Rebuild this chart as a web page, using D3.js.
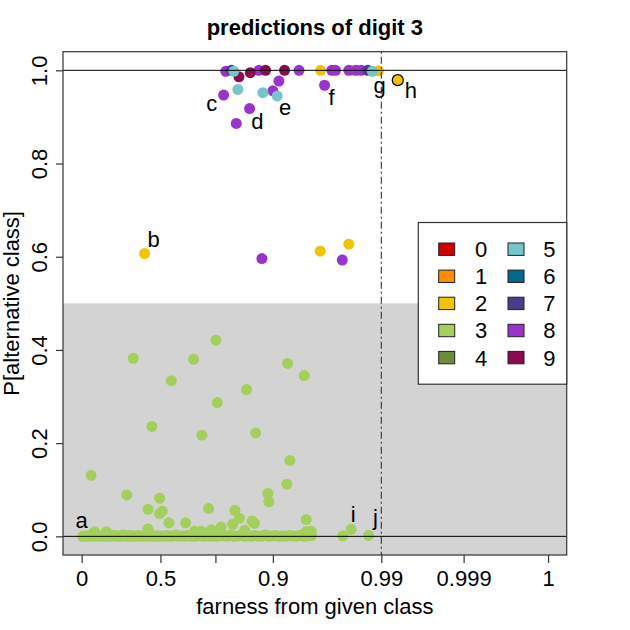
<!DOCTYPE html>
<html><head><meta charset="utf-8">
<script src="https://cdn.jsdelivr.net/npm/d3@7"></script>
<style>
body{margin:0;background:#fff}
svg{display:block}
text{font-family:"Liberation Sans",Arial,Helvetica,sans-serif;fill:#000}
</style>
</head><body><svg id="c" width="630" height="630"></svg>
<script>
// ---------------- data ----------------
const classes = ["0","1","2","3","4","5","6","7","8","9"];
const xTickValues = [0, 0.5, 0.8, 0.9, 0.99, 0.999, 1];
const xTickLabels = ["0", "0.5", "", "0.9", "0.99", "0.999", "1"];
const yTickValues = [0, 0.2, 0.4, 0.6, 0.8, 1];
const yTickLabels = ["0.0", "0.2", "0.4", "0.6", "0.8", "1.0"];
const threshold = 0.99;
const title = "predictions of digit 3";
const xTitle = "farness from given class";
const yTitle = "P[alternative class]";

// [farness, P(alternative class)] per predicted class
const class3Points = [
  [0.0063,0.000],[0.965,0.015],[0.9794,0.002],
  [0.328,0.382],[0.8009,0.421],[0.681,0.380],[0.5595,0.334],[0.9122,0.371],[0.926,0.345],
  [0.8543,0.315],[0.8033,0.287],[0.446,0.236],[0.7264,0.217],[0.87,0.222],[0.9141,0.163],
  [0.0603,0.131],[0.9116,0.112],[0.2855,0.089],[0.495,0.082],[0.8913,0.092],[0.893,0.074],
  [0.422,0.058],[0.5104,0.054],[0.4949,0.049],[0.763,0.060],[0.834,0.056],[0.842,0.039],
  [0.864,0.033],[0.9277,0.036],[0.546,0.029],[0.6375,0.029],[0.4207,0.016],[0.83,0.026],
  [0.868,0.028],[0.958,0.001],[0.0825,0.010],[0.157,0.010],[0.6865,0.011],[0.723,0.011],
  [0.7776,0.014],[0.810,0.020],[0.851,0.013],[0.9277,0.010],[0.9318,0.011]
];
const class3Band = [
  [0.019,0],[0.031,0.001],[0.044,0],[0.058,0.002],[0.071,0],[0.085,0.001],[0.098,0.003],[0.112,0],
  [0.127,0.001],[0.139,0],[0.152,0.002],[0.166,0],[0.18,0],[0.193,0.001],[0.207,0.002],[0.221,0],
  [0.234,0.001],[0.248,0],[0.262,0.003],[0.275,0.001],[0.289,0],[0.302,0.002],[0.316,0],[0.33,0.001],
  [0.343,0],[0.357,0.002],[0.37,0.001],[0.384,0],[0.398,0],[0.411,0.003],[0.425,0.001],[0.439,0],
  [0.452,0.002],[0.466,0],[0.48,0.001],[0.493,0],
  [0.507,0.001],[0.522,0],[0.538,0.002],[0.553,0],[0.569,0.001],[0.584,0.003],[0.6,0],[0.615,0.001],
  [0.631,0],[0.646,0.002],[0.662,0],[0.677,0.001],[0.693,0],[0.708,0.002],[0.724,0.001],[0.739,0],
  [0.755,0.003],[0.77,0],[0.786,0.001],
  [0.803,0],[0.809,0.002],[0.815,0.001],[0.821,0],[0.827,0.003],[0.833,0],[0.839,0.001],[0.845,0.002],
  [0.851,0],[0.857,0.001],[0.863,0],[0.869,0.002],[0.875,0],[0.881,0.001],[0.887,0.003],[0.893,0],
  [0.899,0.001],
  [0.902,0.002],[0.905,0],[0.908,0.001],[0.911,0],[0.914,0.002],[0.917,0.001],[0.92,0],[0.923,0.003],
  [0.926,0],[0.929,0.001],[0.932,0.002]
];
const class2Points = [
  [0.3997,0.607],[0.9393,0.612],[0.963,0.627],[0.9396,1.0],[0.9664,1.0],[0.9877,0.999],[0.9918,0.979]
];
const class8Points = [
  [0.818,0.998],[0.8757,1.0],[0.9217,1.0],[0.9489,1.0],[0.952,1.0],[0.963,1.0],[0.9692,1.0],[0.9733,1.0],
  [0.8143,0.947],[0.8595,0.918],[0.8363,0.886],[0.9,0.956],[0.905,0.977],[0.9429,0.968],
  [0.8809,0.596],[0.9576,0.593]
];
const class9Points = [[0.841,0.986],[0.8607,0.995],[0.8873,1.0],[0.9097,1.0]];
const class7Points = [[0.828,1.0],[0.9788,1.0]];
const class5Points = [[0.832,0.998],[0.9825,0.998],[0.8391,0.959],[0.8826,0.952],[0.9036,0.945]];

// labelled cases: letter, class, index within that class' points
const caseLetters = ["a","b","c","d","e","f","g","h","i","j"];
const caseClass   = [3, 2, 8, 8, 5, 8, 2, 2, 3, 3];
const caseIndex   = [0, 0, 8, 10, 4, 13, 5, 6, 1, 2];

// ---------------- styling / layout ----------------
const classColors = ["#CC0000","#FF8C00","#F0C400","#A2D05A","#6E8B3D","#76C4CC","#00688B","#483D8B","#9A32CD","#8B0A50"];
const pointsByClass = {2: class2Points, 3: class3Points.concat(class3Band), 5: class5Points, 7: class7Points, 8: class8Points, 9: class9Points};
const drawOrder = [3, 2, 8, 9, 7, 5];
const labelOffsets = {a:[-1,-16], b:[9,-14], c:[-12,8], d:[21,-2], e:[8,11], f:[7,12], g:[1,14], h:[13,10], i:[2,-15], j:[7,-18]};

const svg = d3.select("#c");
const plot = {l:63, r:566.7, t:51.7, b:555};
const pw = plot.r - plot.l, ph = plot.b - plot.t;
const padX = pw * 0.04 / 1.08, padY = ph * 0.04 / 1.08;
const xa = plot.l + padX, xb = plot.r - padX;
const axisFrac = [0, 0.1689, 0.2868, 0.410, 0.6425, 0.819, 1];
const x = d3.scaleLinear().domain(xTickValues).range(axisFrac.map(f => xa + f * (xb - xa)));
const y = d3.scaleLinear().domain([0, 1]).range([plot.b - padY, plot.t + padY]);
const FS = 22;

// gray region P < 0.5
svg.append("rect").attr("x", plot.l).attr("y", y(0.5))
  .attr("width", pw).attr("height", plot.b - y(0.5)).attr("fill", "#D3D3D3");

// points
const R = 5.5;
drawOrder.forEach(c => {
  svg.append("g").selectAll("circle").data(pointsByClass[c]).join("circle")
    .attr("cx", d => x(d[0])).attr("cy", d => y(d[1])).attr("r", R)
    .attr("fill", classColors[c])
    .attr("stroke", d => d[0] > threshold ? "#000" : "none")
    .attr("stroke-width", 1.2);
});

// reference lines
svg.append("defs").append("clipPath").attr("id","pc").append("rect")
  .attr("x", plot.l).attr("y", plot.t).attr("width", pw).attr("height", ph);
const lines = svg.append("g").attr("clip-path","url(#pc)");
[0, 1].forEach(v => lines.append("line").attr("x1", plot.l).attr("x2", plot.r)
  .attr("y1", y(v)).attr("y2", y(v)).attr("stroke", "#000").attr("stroke-width", 1));
lines.append("line").attr("x1", x(threshold)).attr("x2", x(threshold))
  .attr("y1", plot.t).attr("y2", plot.b).attr("stroke", "#333").attr("stroke-width", 1.1)
  .attr("stroke-dasharray", "2,3,7,3");

// box
svg.append("rect").attr("x", plot.l).attr("y", plot.t).attr("width", pw).attr("height", ph)
  .attr("fill", "none").attr("stroke", "#333").attr("stroke-width", 1.2);

// x axis
const xAxis = d3.axisBottom(x).tickValues(xTickValues).tickSize(8).tickPadding(6)
  .tickFormat((d, i) => xTickLabels[i]);
const gx = svg.append("g").attr("transform", `translate(0,${plot.b})`).call(xAxis);
gx.select(".domain").remove();
gx.selectAll(".tick line").attr("stroke", "#333").attr("stroke-width", 1.2);
gx.selectAll(".tick text").attr("font-size", FS).attr("font-family", "Liberation Sans, Arial, sans-serif")
  .attr("fill", "#000").attr("y", 15).attr("dy", "0.71em");

// y axis
const yAxis = d3.axisLeft(y).tickValues(yTickValues).tickSize(7).tickFormat((d, i) => yTickLabels[i]);
const gy = svg.append("g").attr("transform", `translate(${plot.l},0)`).call(yAxis);
gy.select(".domain").remove();
gy.selectAll(".tick line").attr("stroke", "#333").attr("stroke-width", 1.2);
gy.selectAll(".tick text").attr("font-size", FS).attr("font-family", "Liberation Sans, Arial, sans-serif")
  .attr("fill", "#000").attr("x", null).attr("dy", null)
  .attr("text-anchor", "middle").attr("transform", "translate(-16,0) rotate(-90)");

// titles
svg.append("text").attr("x", (plot.l + plot.r) / 2).attr("y", 35).attr("text-anchor", "middle")
  .attr("font-size", FS).attr("font-weight", "bold").text(title);
svg.append("text").attr("x", (plot.l + plot.r) / 2).attr("y", 614).attr("text-anchor", "middle")
  .attr("font-size", FS).text(xTitle);
svg.append("text").attr("transform", `translate(19,${(plot.t + plot.b) / 2}) rotate(-90)`)
  .attr("text-anchor", "middle").attr("font-size", FS).text(yTitle);

// case labels
caseLetters.forEach((L, k) => {
  const d = pointsByClass[caseClass[k]][caseIndex[k]];
  const o = labelOffsets[L];
  svg.append("text").attr("x", x(d[0]) + o[0]).attr("y", y(d[1]) + o[1]).attr("dy", "0.36em")
    .attr("text-anchor", "middle").attr("font-size", FS).text(L);
});

// legend
const lgW = 148.4, lgH = 161.7;
const lgX = plot.r - lgW, lgY = y(0.5) - lgH / 2;
const lg = svg.append("g");
lg.append("rect").attr("x", lgX).attr("y", lgY).attr("width", lgW).attr("height", lgH)
  .attr("fill", "#fff").attr("stroke", "#333").attr("stroke-width", 1.2);
classes.forEach((c, i) => {
  const col = Math.floor(i / 5), row = i % 5;
  const cy = lgY + 26.7 + row * 27.1;
  const sx = lgX + 28.4 + col * 69.3;
  lg.append("rect").attr("x", sx - 8).attr("y", cy - 6.2).attr("width", 16).attr("height", 12.4)
    .attr("fill", classColors[i]).attr("stroke", "#222").attr("stroke-width", 1);
  lg.append("text").attr("x", lgX + 56.7 + col * 68.3).attr("y", cy).attr("dy", "0.36em")
    .attr("font-size", FS).text(c);
});
</script>
</body></html>
